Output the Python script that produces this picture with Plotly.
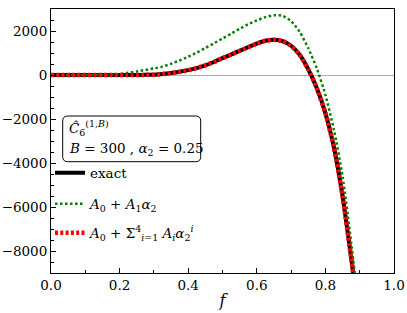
import plotly.graph_objects as go

# ---- data ----
f_vals = [0.0, 0.025, 0.05, 0.075, 0.1, 0.125, 0.15, 0.175, 0.2, 0.225, 0.25, 0.275,
          0.3, 0.325, 0.35, 0.375, 0.4, 0.425, 0.45, 0.475, 0.5, 0.525, 0.55, 0.575,
          0.6, 0.625, 0.65, 0.675, 0.7, 0.725, 0.75, 0.775, 0.8, 0.825, 0.85, 0.875, 0.9]

exact_vals = [0, 0, 0, 0, 0, 0, 0, 0, 0, 0, 2, 6,
              15, 45, 90, 150, 220, 315, 440, 590, 765, 930, 1100, 1265,
              1430, 1555, 1600, 1540, 1330, 920, 260, -600, -1730, -3300, -5500, -8300, -11300]

first_order_vals = [0, 0, 0, 0, 0, 0, 5, 15, 40, 100, 160, 230,
                    300, 380, 510, 660, 830, 1020, 1230, 1440, 1660, 1880, 2100, 2310,
                    2480, 2630, 2715, 2690, 2450, 1960, 1220, 300, -900, -2500, -4600, -7600, -11000]

# fourth-order expansion coincides with exact curve at this resolution
fourth_order_vals = [0, 0, 0, 0, 0, 0, 0, 0, 0, 0, 2, 6,
                     15, 45, 90, 150, 220, 315, 440, 590, 765, 930, 1100, 1265,
                     1430, 1555, 1600, 1540, 1330, 920, 260, -600, -1730, -3300, -5500, -8300, -11300]

x_ticks = [0.0, 0.2, 0.4, 0.6, 0.8, 1.0]
x_ticklabels = ["0.0", "0.2", "0.4", "0.6", "0.8", "1.0"]
y_ticks = [-8000, -6000, -4000, -2000, 0, 2000]
y_ticklabels = ["\u22128000", "\u22126000", "\u22124000", "\u22122000", "0", "2000"]

names = ["exact",
         "<i>A</i><sub>0</sub> + <i>A</i><sub>1</sub><i>α</i><sub>2</sub>",
         "<i>A</i><sub>0</sub> + Σ<sup>4</sup><sub><i>i</i>=1</sub> <i>A<sub>i</sub></i><i>α</i><sub>2</sub><sup><i>i</i></sup>"]

FONT = "DejaVu Serif"
FS = 13.5
W, H = 407, 313
# plot area in page pixels: x 51..394, y 9..273
ML, MR, MT, MB = 51, 407 - 394, 9, 313 - 273
PW, PH = W - ML - MR, H - MT - MB

def px_x(p):  # page pixel -> paper
    return (p - ML) / PW

def px_y(p):
    return (H - MB - p) / PH

fig = go.Figure()
fig.add_trace(go.Scatter(x=f_vals, y=exact_vals, mode="lines", name=names[0],
                         line=dict(color="black", width=4, shape="spline", smoothing=0.6),
                         legend="legend"))
fig.add_trace(go.Scatter(x=f_vals, y=first_order_vals, mode="lines", name=names[1],
                         line=dict(color="green", width=2.5, dash="2.5px,2.5px",
                                   shape="spline", smoothing=0.6),
                         legend="legend2"))
fig.add_trace(go.Scatter(x=f_vals, y=fourth_order_vals, mode="lines", name=names[2],
                         line=dict(color="red", width=4.5, dash="3px,2.3px",
                                   shape="spline", smoothing=0.6),
                         legend="legend3"))

leg_common = dict(x=px_x(50), xanchor="left", yanchor="middle",
                  bgcolor="rgba(0,0,0,0)", borderwidth=0,
                  font=dict(family=FONT, size=FS, color="black"),
                  itemwidth=30, tracegroupgap=0)
fig.update_layout(
    legend=dict(y=px_y(173), **leg_common),
    legend2=dict(y=px_y(204), **leg_common),
    legend3=dict(y=px_y(233), **leg_common),
)

# rounded text box
x0, x1 = px_x(62.7), px_x(200.7)
y0, y1 = px_y(161.7), px_y(116)
rx, ry = 5 / PW, 5 / PH
path = (f"M {x0+rx},{y0} L {x1-rx},{y0} Q {x1},{y0} {x1},{y0+ry} "
        f"L {x1},{y1-ry} Q {x1},{y1} {x1-rx},{y1} "
        f"L {x0+rx},{y1} Q {x0},{y1} {x0},{y1-ry} "
        f"L {x0},{y0+ry} Q {x0},{y0} {x0+rx},{y0} Z")
fig.add_shape(type="path", path=path, xref="paper", yref="paper",
              line=dict(color="black", width=1), fillcolor="white", layer="above")

fig.add_annotation(x=px_x(67), y=px_y(128), xref="paper", yref="paper",
                   xanchor="left", yanchor="middle", showarrow=False,
                   text="<i>Ĉ</i><sub>6</sub><sup>(1,<i>B</i>)</sup>",
                   font=dict(family=FONT, size=FS, color="black"))
fig.add_annotation(x=px_x(67), y=px_y(149), xref="paper", yref="paper",
                   xanchor="left", yanchor="middle", showarrow=False,
                   text="<i>B</i> = 300 , <i>α</i><sub>2</sub> = 0.25",
                   font=dict(family=FONT, size=FS, color="black"))

fig.update_layout(
    width=W, height=H,
    margin=dict(l=ML, r=MR, t=MT, b=MB, pad=0, autoexpand=False),
    paper_bgcolor="white", plot_bgcolor="white",
    showlegend=True,
    font=dict(family=FONT, size=FS, color="black"),
    xaxis=dict(range=[0, 1], tickvals=x_ticks, ticktext=x_ticklabels,
               ticks="inside", ticklen=5, tickwidth=1, tickcolor="black",
               minor=dict(dtick=0.1, ticks="inside", ticklen=3, tickcolor="black", showgrid=False),
               showline=True, mirror=True, linecolor="black", linewidth=1,
               showgrid=False, zeroline=False,
               title=dict(text="<i>f</i>", font=dict(family=FONT, size=16), standoff=2),
               tickfont=dict(family=FONT, size=FS)),
    yaxis=dict(range=[-9000, 3000], tickvals=y_ticks, ticktext=y_ticklabels,
               ticks="inside", ticklen=5, tickwidth=1, tickcolor="black",
               minor=dict(dtick=500, tick0=0, ticks="inside", ticklen=3, tickcolor="black", showgrid=False),
               showline=True, mirror=True, linecolor="black", linewidth=1,
               showgrid=False, zeroline=True, zerolinecolor="#b0b0b0", zerolinewidth=1,
               tickfont=dict(family=FONT, size=FS)),
)

# remove the default 8px page margin so the figure sits at the window's corner
fig.write_html("out.html", config={"displayModeBar": False},
               post_script="document.body.style.margin='0px';")
